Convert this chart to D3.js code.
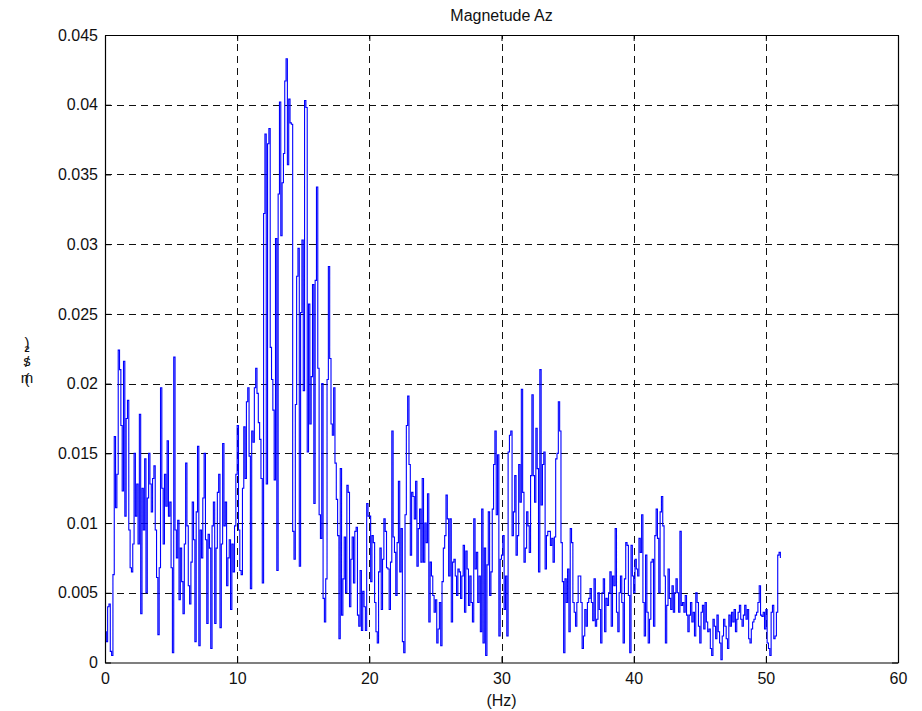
<!DOCTYPE html>
<html>
<head>
<meta charset="utf-8">
<script src="https://cdn.jsdelivr.net/npm/d3@7/dist/d3.min.js"></script>
<style>
  html, body { margin: 0; padding: 0; background: #fff; }
  svg { display: block; }
  text { font-family: "Liberation Sans", Arial, Helvetica, sans-serif; fill: #111; }
</style>
</head>
<body>
<svg id="chart" width="922" height="711"></svg>
<script>
// Spectrum magnitude of the vertical acceleration, sampled every 0.1 Hz from 0 Hz
const freqStep = 0.1;
const magnitude = [
  // 0 - 10 Hz
  0.0022, 0.0015, 0.0040, 0.0042, 0.0008, 0.0005, 0.0063, 0.0162, 0.0111, 0.0135,
  0.0224, 0.0210, 0.0170, 0.0123, 0.0216, 0.0105, 0.0175, 0.0188, 0.0095, 0.0068,
  0.0065, 0.0085, 0.0150, 0.0105, 0.0128, 0.0085, 0.0178, 0.0035, 0.0125, 0.0095,
  0.0146, 0.0050, 0.0118, 0.0150, 0.0128, 0.0108, 0.0132, 0.0141, 0.0095, 0.0061,
  0.0020, 0.0068, 0.0197, 0.0125, 0.0085, 0.0135, 0.0112, 0.0159, 0.0105, 0.0115,
  0.0068, 0.0007, 0.0219, 0.0095, 0.0075, 0.0102, 0.0045, 0.0082, 0.0058, 0.0035,
  0.0085, 0.0143, 0.0098, 0.0055, 0.0042, 0.0072, 0.0115, 0.0088, 0.0015, 0.0108,
  0.0155, 0.0012, 0.0095, 0.0075, 0.0118, 0.0150, 0.0088, 0.0028, 0.0092, 0.0082,
  0.0010, 0.0098, 0.0115, 0.0028, 0.0082, 0.0122, 0.0135, 0.0025, 0.0085, 0.0157,
  0.0098, 0.0115, 0.0055, 0.0075, 0.0088, 0.0038, 0.0085, 0.0065, 0.0098, 0.0135,
  // 10 - 20 Hz
  0.0170, 0.0095, 0.0066, 0.0063, 0.0125, 0.0169, 0.0132, 0.0187, 0.0197, 0.0148,
  0.0053, 0.0166, 0.0158, 0.0197, 0.0211, 0.0193, 0.0172, 0.0160, 0.0132, 0.0057,
  0.0322, 0.0379, 0.0128, 0.0372, 0.0383, 0.0226, 0.0203, 0.0181, 0.0131, 0.0304,
  0.0066, 0.0336, 0.0402, 0.0306, 0.0344, 0.0365, 0.0417, 0.0433, 0.0357, 0.0404,
  0.0387, 0.0386, 0.0094, 0.0074, 0.0185, 0.0277, 0.0297, 0.0069, 0.0251, 0.0303,
  0.0195, 0.0403, 0.0398, 0.0151, 0.0257, 0.0171, 0.0205, 0.0271, 0.0114, 0.0274,
  0.0341, 0.0211, 0.0106, 0.0089, 0.0200, 0.0046, 0.0029, 0.0060, 0.0203, 0.0284,
  0.0218, 0.0171, 0.0163, 0.0197, 0.0143, 0.0117, 0.0091, 0.0017, 0.0139, 0.0034,
  0.0060, 0.0090, 0.0050, 0.0127, 0.0122, 0.0040, 0.0074, 0.0090, 0.0057, 0.0094,
  0.0097, 0.0034, 0.0026, 0.0066, 0.0023, 0.0051, 0.0040, 0.0023, 0.0114, 0.0105,
  // 20 - 30 Hz
  0.0105, 0.0058, 0.0091, 0.0086, 0.0043, 0.0022, 0.0014, 0.0065, 0.0082, 0.0038,
  0.0074, 0.0103, 0.0094, 0.0068, 0.0067, 0.0038, 0.0072, 0.0166, 0.0090, 0.0079,
  0.0048, 0.0086, 0.0130, 0.0065, 0.0096, 0.0015, 0.0007, 0.0106, 0.0170, 0.0191,
  0.0142, 0.0077, 0.0122, 0.0119, 0.0103, 0.0130, 0.0069, 0.0096, 0.0110, 0.0072,
  0.0132, 0.0072, 0.0100, 0.0086, 0.0121, 0.0029, 0.0072, 0.0062, 0.0048, 0.0036,
  0.0045, 0.0014, 0.0024, 0.0043, 0.0012, 0.0058, 0.0082, 0.0091, 0.0120, 0.0103,
  0.0062, 0.0103, 0.0029, 0.0072, 0.0074, 0.0062, 0.0048, 0.0067, 0.0065, 0.0046,
  0.0062, 0.0084, 0.0036, 0.0080, 0.0067, 0.0041, 0.0062, 0.0043, 0.0029, 0.0103,
  0.0067, 0.0079, 0.0043, 0.0062, 0.0022, 0.0110, 0.0014, 0.0082, 0.0005, 0.0070,
  0.0108, 0.0048, 0.0065, 0.0110, 0.0142, 0.0166, 0.0106, 0.0149, 0.0019, 0.0074,
  // 30 - 40 Hz
  0.0077, 0.0091, 0.0038, 0.0062, 0.0019, 0.0151, 0.0163, 0.0166, 0.0091, 0.0108,
  0.0134, 0.0077, 0.0091, 0.0142, 0.0115, 0.0196, 0.0122, 0.0072, 0.0082, 0.0108,
  0.0098, 0.0079, 0.0134, 0.0192, 0.0134, 0.0115, 0.0168, 0.0139, 0.0065, 0.0210,
  0.0113, 0.0142, 0.0151, 0.0067, 0.0091, 0.0094, 0.0094, 0.0084, 0.0089, 0.0072,
  0.0090, 0.0146, 0.0150, 0.0187, 0.0166, 0.0086, 0.0058, 0.0007, 0.0060, 0.0043,
  0.0067, 0.0022, 0.0096, 0.0086, 0.0043, 0.0036, 0.0026, 0.0043, 0.0062, 0.0062,
  0.0043, 0.0010, 0.0019, 0.0038, 0.0026, 0.0043, 0.0046, 0.0053, 0.0043, 0.0030,
  0.0060, 0.0026, 0.0031, 0.0050, 0.0038, 0.0014, 0.0050, 0.0060, 0.0022, 0.0046,
  0.0041, 0.0050, 0.0065, 0.0026, 0.0062, 0.0055, 0.0096, 0.0036, 0.0022, 0.0050,
  0.0062, 0.0043, 0.0014, 0.0060, 0.0086, 0.0084, 0.0048, 0.0007, 0.0084, 0.0062,
  // 40 - 51.1 Hz
  0.0050, 0.0074, 0.0067, 0.0062, 0.0089, 0.0079, 0.0106, 0.0043, 0.0019, 0.0077,
  0.0036, 0.0014, 0.0031, 0.0072, 0.0074, 0.0026, 0.0091, 0.0110, 0.0089, 0.0050,
  0.0108, 0.0119, 0.0098, 0.0062, 0.0014, 0.0041, 0.0067, 0.0046, 0.0038, 0.0055,
  0.0036, 0.0050, 0.0060, 0.0050, 0.0036, 0.0094, 0.0041, 0.0043, 0.0036, 0.0048,
  0.0034, 0.0022, 0.0034, 0.0043, 0.0029, 0.0036, 0.0019, 0.0050, 0.0043, 0.0026,
  0.0014, 0.0036, 0.0041, 0.0024, 0.0043, 0.0029, 0.0022, 0.0024, 0.0010, 0.0005,
  0.0031, 0.0026, 0.0017, 0.0034, 0.0022, 0.0014, 0.0002, 0.0019, 0.0031, 0.0026,
  0.0017, 0.0010, 0.0034, 0.0026, 0.0036, 0.0029, 0.0038, 0.0022, 0.0031, 0.0036,
  0.0041, 0.0031, 0.0026, 0.0034, 0.0041, 0.0031, 0.0038, 0.0017, 0.0014, 0.0024,
  0.0029, 0.0031, 0.0034, 0.0036, 0.0043, 0.0055, 0.0034, 0.0033, 0.0036, 0.0024,
  0.0038, 0.0014, 0.0010, 0.0005, 0.0036, 0.0041, 0.0017, 0.0019, 0.0036, 0.0077,
  0.0079, 0.0075
];

const xTicks = [0, 10, 20, 30, 40, 50, 60];
const xTickLabels = ["0", "10", "20", "30", "40", "50", "60"];
const yTicks = [0, 0.005, 0.01, 0.015, 0.02, 0.025, 0.03, 0.035, 0.04, 0.045];
const yTickLabels = ["0", "0.005", "0.01", "0.015", "0.02", "0.025", "0.03", "0.035", "0.04", "0.045"];

const titleText = "Magnetude Az";
const xLabelText = "(Hz)";
const yLabelText = "(m/s\u00B2)";

const margin = { left: 105, top: 35, right: 24, bottom: 48.5 };
const W = 922, H = 711;
const svg = d3.select("#chart");

const x = d3.scaleLinear().domain([0, 60]).range([margin.left, W - margin.right]);
const y = d3.scaleLinear().domain([0, 0.045]).range([H - margin.bottom, margin.top]);

const x0 = x.range()[0], x1 = x.range()[1];
const yBot = y.range()[0], yTop = y.range()[1];

// dashed grid
const grid = svg.append("g").attr("stroke", "#111").attr("stroke-width", 1)
  .attr("stroke-dasharray", "7,5").attr("shape-rendering", "crispEdges");
grid.selectAll("line.gx").data(xTicks.slice(1, -1)).join("line")
  .attr("x1", d => Math.round(x(d)) + 0.5).attr("x2", d => Math.round(x(d)) + 0.5)
  .attr("y1", yBot).attr("y2", yTop);
grid.selectAll("line.gy").data(yTicks.slice(1, -1)).join("line")
  .attr("y1", d => Math.round(y(d)) + 0.5).attr("y2", d => Math.round(y(d)) + 0.5)
  .attr("x1", x0).attr("x2", x1);

// spectrum trace
const pts = magnitude.map((v, i) => [i * freqStep, v]);
const line = d3.line().x(d => x(d[0])).y(d => y(d[1])).curve(d3.curveStepAfter);
svg.append("path").datum(pts)
  .attr("fill", "none").attr("stroke", "#0000ff").attr("stroke-width", 1.1)
  .attr("d", line);

// axes with inward ticks on all four sides
const fmtX = d => xTickLabels[xTicks.indexOf(d)];
const fmtY = d => yTickLabels[yTicks.indexOf(d)];
const tick = 6;

const axB = svg.append("g").attr("transform", `translate(0,${yBot})`)
  .call(d3.axisBottom(x).tickValues(xTicks).tickFormat(fmtX).tickSizeInner(-tick).tickSizeOuter(0).tickPadding(10));
const axT = svg.append("g").attr("transform", `translate(0,${yTop})`)
  .call(d3.axisTop(x).tickValues(xTicks).tickFormat("").tickSizeInner(-tick).tickSizeOuter(0));
const axL = svg.append("g").attr("transform", `translate(${x0},0)`)
  .call(d3.axisLeft(y).tickValues(yTicks).tickFormat(fmtY).tickSizeInner(-tick).tickSizeOuter(0).tickPadding(7));
const axR = svg.append("g").attr("transform", `translate(${x1},0)`)
  .call(d3.axisRight(y).tickValues(yTicks).tickFormat("").tickSizeInner(-tick).tickSizeOuter(0));

[axB, axT, axL, axR].forEach(a => {
  a.select(".domain").attr("stroke", "#000").attr("stroke-width", 1.2);
  a.selectAll(".tick line").attr("stroke", "#000");
  a.selectAll("text").attr("font-size", 16).attr("fill", "#111")
    .attr("font-family", "'Liberation Sans', Arial, sans-serif");
});

// title and axis labels
svg.append("text").attr("x", (x0 + x1) / 2).attr("y", 21)
  .attr("text-anchor", "middle").attr("font-size", 16).text(titleText);
svg.append("text").attr("x", (x0 + x1) / 2).attr("y", 706)
  .attr("text-anchor", "middle").attr("font-size", 16).text(xLabelText);

// y label: one text whose upright glyphs are stacked upward in a column
const ylX = [27, 27, 27, 27, 27, 27];
const ylY = [384, 383, 367, 366, 356, 348];
svg.append("text")
  .attr("text-anchor", "middle")
  .attr("font-size", 15)
  .attr("x", ylX.join(" "))
  .attr("y", ylY.join(" "))
  .text(yLabelText);
</script>
</body>
</html>
